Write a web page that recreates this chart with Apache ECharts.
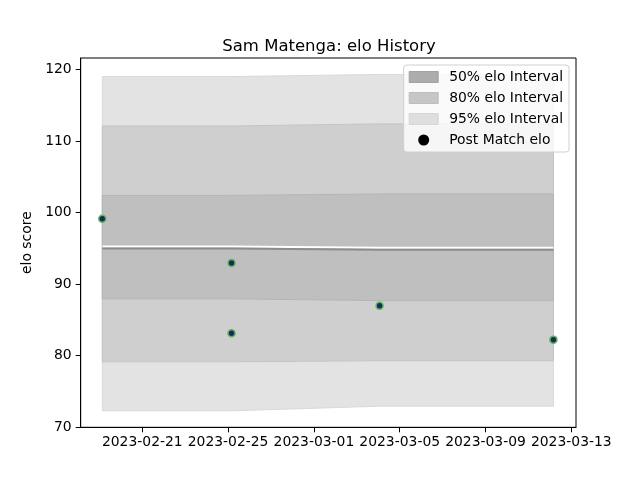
<!DOCTYPE html>
<html>
<head>
    <meta charset="utf-8">
    <title>elo History</title>
    <script src="https://cdn.jsdelivr.net/npm/echarts@6/dist/echarts.min.js"></script>
    <style>
        html, body { margin: 0; padding: 0; background: #fff; }
    </style>
</head>
<body>
    <div id="main" style="width: 640px;height:480px;"></div>
    <script type="text/javascript">
        // band dates (one interval per rating update)
        var bandDates = ['2023-02-19 03:15', '2023-02-25 03:50', '2023-03-04 01:30', '2023-03-12 04:00'];
        var meanElo = [95.0, 95.0, 94.8, 94.8];
        var low50 = [87.95, 87.95, 87.7, 87.7];
        var high50 = [102.4, 102.4, 102.6, 102.6];
        var low80 = [79.15, 79.15, 79.3, 79.3];
        var high80 = [112.1, 112.1, 112.4, 112.4];
        var low95 = [72.3, 72.3, 72.95, 72.95];
        var high95 = [119.0, 119.0, 119.3, 119.3];

        // post match points
        var matchDates = ['2023-02-19 03:15', '2023-02-25 03:50', '2023-02-25 03:50', '2023-03-04 01:30', '2023-03-12 04:00'];
        var matchElo = [99.15, 92.95, 83.15, 87.0, 82.25];

        // tick labels
        var xTicks = ['2023-02-21', '2023-02-25', '2023-03-01', '2023-03-05', '2023-03-09', '2023-03-13'];
        var yTicks = [70, 80, 90, 100, 110, 120];

        function toTime(s){
            return new Date(s.replace(' ', 'T') + (s.length > 10 ? ':00' : 'T00:00:00')).getTime();
        }
        function pad2(n){ return (n < 10 ? '0' : '') + n; }
        function fmtDate(v){
            var d = new Date(v);
            return d.getFullYear() + '-' + pad2(d.getMonth() + 1) + '-' + pad2(d.getDate());
        }

        var FONT = 'DejaVu Sans';

        function bandSeries(name, lows, highs, fill, stroke, z){
            var rows = [];
            for (var i = 0; i < bandDates.length; i++) {
                rows.push([toTime(bandDates[i]), lows[i], highs[i]]);
            }
            return {
                name: name,
                type: 'custom',
                z: z,
                silent: true,
                encode: { x: 0, y: [1, 2] },
                data: rows,
                renderItem: function(params, api){
                    if (params.dataIndex !== 0) return null;
                    var pts = [];
                    for (var i = 0; i < rows.length; i++) {
                        pts.push(api.coord([rows[i][0], rows[i][2]]));
                    }
                    for (var j = rows.length - 1; j >= 0; j--) {
                        pts.push(api.coord([rows[j][0], rows[j][1]]));
                    }
                    return {
                        type: 'polygon',
                        shape: { points: pts },
                        style: { fill: fill, stroke: stroke, lineWidth: 1 }
                    };
                }
            };
        }

        var meanData = [];
        for (var i = 0; i < bandDates.length; i++) {
            meanData.push([toTime(bandDates[i]), meanElo[i]]);
        }
        var pointData = [];
        for (var k = 0; k < matchDates.length; k++) {
            pointData.push([toTime(matchDates[k]), matchElo[k]]);
        }
        var xTickVals = xTicks.map(toTime);

        var option = {
            animation: false,
            backgroundColor: '#fff',
            textStyle: { fontFamily: FONT },
            title: {
                text: 'Sam Matenga: elo History',
                left: 324,
                textAlign: 'center',
                top: 33,
                textStyle: { fontFamily: FONT, fontSize: 16.5, fontWeight: 'normal', color: '#000' }
            },
            legend: {
                orient: 'vertical',
                right: 71,
                top: 65,
                padding: [4, 6, 4, 5],
                itemGap: 5,
                itemWidth: 29,
                itemHeight: 11,
                backgroundColor: 'rgba(255,255,255,0.8)',
                borderColor: '#d0d0d0',
                borderWidth: 1,
                borderRadius: 3,
                textStyle: { fontFamily: FONT, fontSize: 13.9, color: '#000', lineHeight: 16, padding: [0, 0, 0, 6] },
                data: [
                    { name: '50% elo Interval', icon: 'rect', itemStyle: { color: '#acacac', borderColor: '#a2a2a2', borderWidth: 1 } },
                    { name: '80% elo Interval', icon: 'rect', itemStyle: { color: '#c6c6c6', borderColor: '#bdbdbd', borderWidth: 1 } },
                    { name: '95% elo Interval', icon: 'rect', itemStyle: { color: '#dedede', borderColor: '#d6d6d6', borderWidth: 1 } },
                    { name: 'Post Match elo', icon: 'circle', itemStyle: { color: '#000', borderWidth: 0 } }
                ]
            },
            grid: {
                left: 80.7,
                right: 64,
                top: 58,
                bottom: 52.7,
                show: true,
                borderColor: '#000',
                borderWidth: 1,
                backgroundColor: 'transparent'
            },
            xAxis: {
                type: 'value',
                min: toTime('2023-02-18 03:05'),
                max: toTime('2023-03-13 05:15'),
                splitLine: { show: false },
                axisLine: { show: true, lineStyle: { color: '#000', width: 1 } },
                axisTick: { show: true, length: 5, customValues: xTickVals, lineStyle: { color: '#000' } },
                axisLabel: {
                    customValues: xTickVals,
                    margin: 8,
                    color: '#000',
                    fontFamily: FONT,
                    fontSize: 13.9,
                    formatter: fmtDate
                }
            },
            yAxis: {
                type: 'value',
                min: 70,
                max: 121.6,
                name: 'elo score',
                nameLocation: 'middle',
                nameGap: 41,
                nameRotate: 90,
                nameTextStyle: { fontFamily: FONT, fontSize: 13.9, color: '#000' },
                splitLine: { show: false },
                axisLine: { show: true, lineStyle: { color: '#000', width: 1 } },
                axisTick: { show: true, length: 5, customValues: yTicks, lineStyle: { color: '#000' } },
                axisLabel: {
                    customValues: yTicks,
                    margin: 9,
                    color: '#000',
                    fontFamily: FONT,
                    fontSize: 13.9
                }
            },
            series: [
                bandSeries('95% elo Interval', low95, high95, '#e3e3e3', '#d9d9d9', 1),
                bandSeries('80% elo Interval', low80, high80, '#cfcfcf', '#c5c5c5', 2),
                bandSeries('50% elo Interval', low50, high50, '#bfbfbf', '#b5b5b5', 3),
                {
                    name: 'mean elo',
                    type: 'line',
                    z: 4,
                    silent: true,
                    showSymbol: false,
                    data: meanData,
                    lineStyle: { color: '#8c8c8c', width: 2, shadowColor: '#ffffff', shadowOffsetY: -2, shadowBlur: 0 }
                },
                {
                    name: 'Post Match elo',
                    type: 'scatter',
                    z: 5,
                    symbolSize: 7,
                    data: pointData,
                    itemStyle: { color: '#1c2b5e', borderColor: '#5cb85c', borderWidth: 1.5, opacity: 1 }
                }
            ]
        };

        var myChart = echarts.init(document.getElementById('main'));
        myChart.setOption(option);
    </script>
</body>
</html>
